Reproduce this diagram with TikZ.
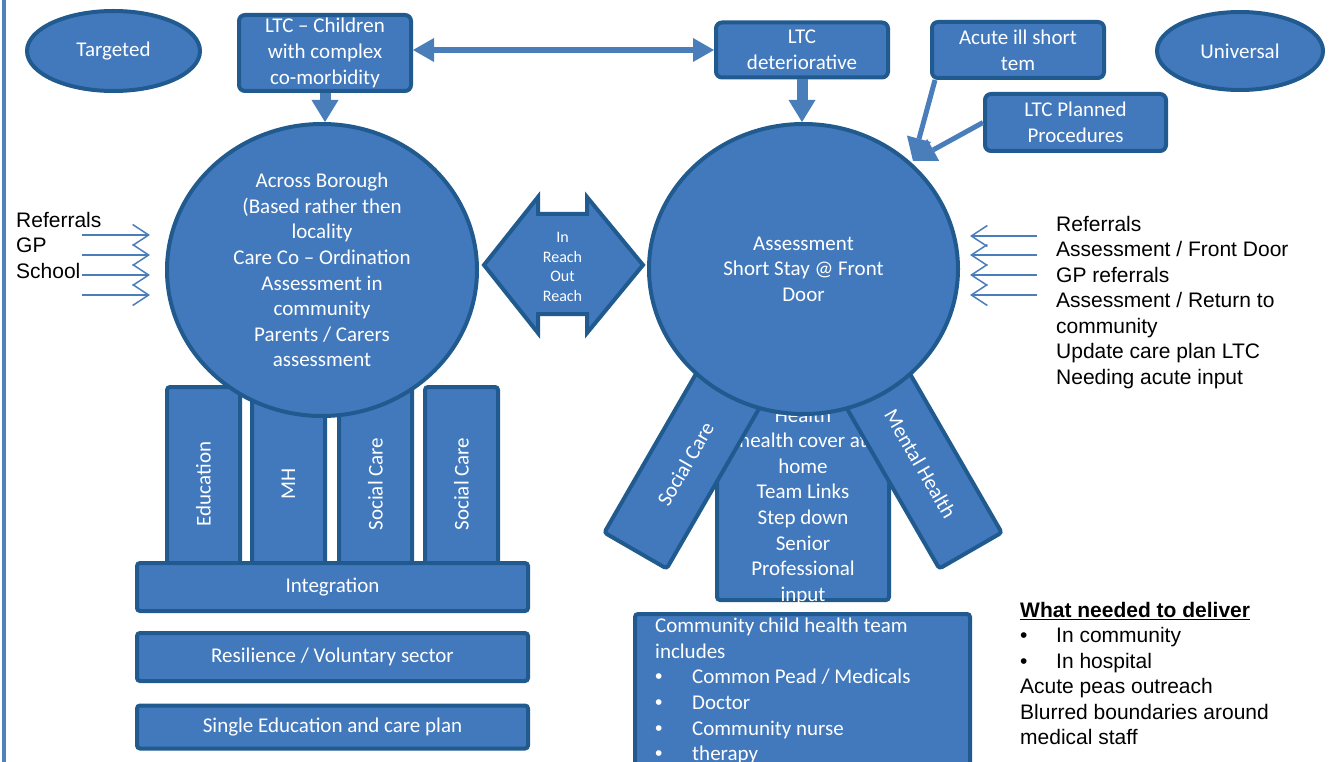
\documentclass[tikz,border=0pt]{standalone}
\usepackage{fontspec}
\setmainfont{Carlito}
\newfontfamily\arialfont{Liberation Sans}
\usetikzlibrary{shapes.geometric,arrows.meta}

\definecolor{boxfill}{HTML}{4279BD}
\definecolor{boxline}{HTML}{205A8E}
\definecolor{linkblue}{HTML}{4A7EBB}
\definecolor{rulerblue}{HTML}{4F81BD}

\newcommand{\itemdot}[1]{\makebox[#1][l]{\arialfont •}}

\tikzset{
  x=1pt, y=-1pt,
  bluefill/.style={fill=boxfill, draw=boxline, line width=4pt},
  shapebase/.style={bluefill, text=white, font=\fontsize{21}{25.6}\selectfont,
    align=center, inner sep=0pt},
  rbox/.style={shapebase, rounded corners=6pt},
  flatbox/.style={shapebase, rounded corners=3pt},
  oval/.style={shapebase, ellipse},
  whitetext/.style={text=white, font=\fontsize{21}{25.6}\selectfont, inner sep=0pt},
  blockarrow/.style={draw=linkblue, line width=11pt,
    -{Triangle[width=27pt,length=22pt,line width=0pt]}},
  twoway/.style={draw=linkblue, line width=6pt,
    {Triangle[width=24pt,length=21pt,line width=0pt]}-{Triangle[width=24pt,length=21pt,line width=0pt]}},
  slimarrow/.style={draw=linkblue, line width=5pt,
    -{Triangle[width=25pt,length=23pt,line width=0pt]}},
  thinarrow/.style={draw=linkblue, line width=1.5pt,
    -{Straight Barb[length=16pt,width=21pt]}},
  note/.style={font=\arialfont\fontsize{21}{25.5}\selectfont, align=left,
    inner sep=0pt, anchor=north west},
}

\begin{document}
\begin{tikzpicture}
\useasboundingbox (0,0) rectangle (1339,762);
\clip (0,0) rectangle (1339,762);

% margin rule on the left
\draw[rulerblue, line width=4pt] (4,0) -- (4,762);

% pillars under the targeted service
\node[flatbox, rotate=90, minimum width=194pt, minimum height=73pt] (p1) at (203.5,484) {Education};
\node[flatbox, rotate=90, minimum width=194pt, minimum height=73pt] (p2) at (288.5,484) {MH};
\node[flatbox, rotate=90, minimum width=194pt, minimum height=73pt] (p3) at (375.5,484) {Social Care};
\node[flatbox, rotate=90, minimum width=194pt, minimum height=73pt] (p4) at (461.5,484) {Social Care};

% foundation bars
\node[flatbox, minimum width=391pt, minimum height=48pt] (integ) at (332.5,587) {Integration};
\node[flatbox, minimum width=391pt, minimum height=48pt] (resil) at (332.5,657) {Resilience / Voluntary sector};
\node[flatbox, minimum width=391pt, minimum height=43pt] (single) at (332.5,727) {Single Education and care plan};

% targeted hub
\node[oval, minimum width=310pt, minimum height=292pt] (lcirc) at (322,270)
  {Across Borough\\(Based rather then\\locality\\Care Co – Ordination\\Assessment in\\community\\Parents / Carers\\assessment};

% fan under the universal hub
\node[flatbox, minimum width=172pt, minimum height=220pt] (mid) at (803,490) {};
\node[whitetext, align=center] (midtext) at (803,506)
  {Health\\health cover at\\home\\Team Links\\Step down\\Senior\\Professional\\input};
\node[flatbox, rotate=60, minimum width=200pt, minimum height=72pt] (sc) at (685.5,464) {Social Care};
\node[flatbox, rotate=-60, minimum width=200pt, minimum height=72pt] (mh) at (920.5,464) {Mental Health};

% universal hub
\node[oval, minimum width=309pt, minimum height=290pt] (rcirc) at (803.5,269)
  {Assessment\\Short Stay @ Front\\Door};

% community team panel
\node[flatbox, minimum width=335pt, minimum height=190pt] (comm) at (802.5,709) {};
\node[whitetext, align=left, anchor=north west] (commtext) at (655,618)
  {Community child health team\\includes\\\itemdot{37pt}Common Pead / Medicals\\\itemdot{37pt}Doctor\\\itemdot{37pt}Community nurse\\\itemdot{37pt}therapy};

% in reach / out reach link
\draw[bluefill, line join=miter] (484,265) -- (538,197) -- (538,214) -- (587,214) -- (587,197)
  -- (643,265) -- (587,333) -- (587,314) -- (538,314) -- (538,333) -- cycle;
\node[text=white, font=\fontsize{16}{19.5}\selectfont, align=center, inner sep=0pt] (reach) at (562.5,267)
  {In\\Reach\\Out\\Reach};

% top row
\node[oval, minimum width=173pt, minimum height=80pt] (targ) at (113.5,51) {Targeted};
\node[oval, minimum width=166pt, minimum height=78pt] (univ) at (1240,51) {Universal};
\node[rbox, minimum width=172pt, minimum height=76pt] (ltcc) at (325,53) {LTC – Children\\with complex\\co-morbidity};
\node[rbox, minimum width=172pt, minimum height=55pt] (ltcd) at (802,50) {LTC\\deteriorative};
\node[rbox, minimum width=172pt, minimum height=56pt] (acute) at (1018,50) {Acute ill short\\tem};
\node[rbox, minimum width=181pt, minimum height=57pt] (plan) at (1075.5,122.5) {LTC Planned\\Procedures};

% connectors
\draw[twoway] (ltcc.east |- ltcd.west) -- (ltcd.west);
\draw[blockarrow] (ltcc.south) -- (ltcc.south |- lcirc.north);
\draw[blockarrow] (ltcd.south) -- (ltcd.south |- rcirc.north);
\coordinate (hit) at (913,161);
\draw[slimarrow] ([xshift=5pt]acute.south west) -- (hit);
\draw[slimarrow] (plan.west) -- (hit);

% referral inputs
\foreach \i/\yy in {1/235,2/255,3/275,4/295} {
  \coordinate (ls\i) at (82,\yy);
  \coordinate (le\i) at (150,\yy);
  \draw[thinarrow] (ls\i) -- (le\i);
}
\foreach \i/\yy in {1/236,2/255,3/275,4/295} {
  \coordinate (rs\i) at (1037,\yy);
  \coordinate (re\i) at (970,\yy);
  \draw[thinarrow] (rs\i) -- (re\i);
}

% side notes
\node[note] (refL) at (16,212) {Referrals\\GP\\School};
\node[note] (refR) at (1056,216) {Referrals\\Assessment / Front Door\\GP referrals\\Assessment / Return to\\community\\Update care plan LTC\\Needing acute input};
\node[note] (need) at (1020,602) {\underline{\textbf{What needed to deliver}}\\\itemdot{36pt}In community\\\itemdot{36pt}In hospital\\Acute peas outreach\\Blurred boundaries around\\medical staff};
\end{tikzpicture}
\end{document}
